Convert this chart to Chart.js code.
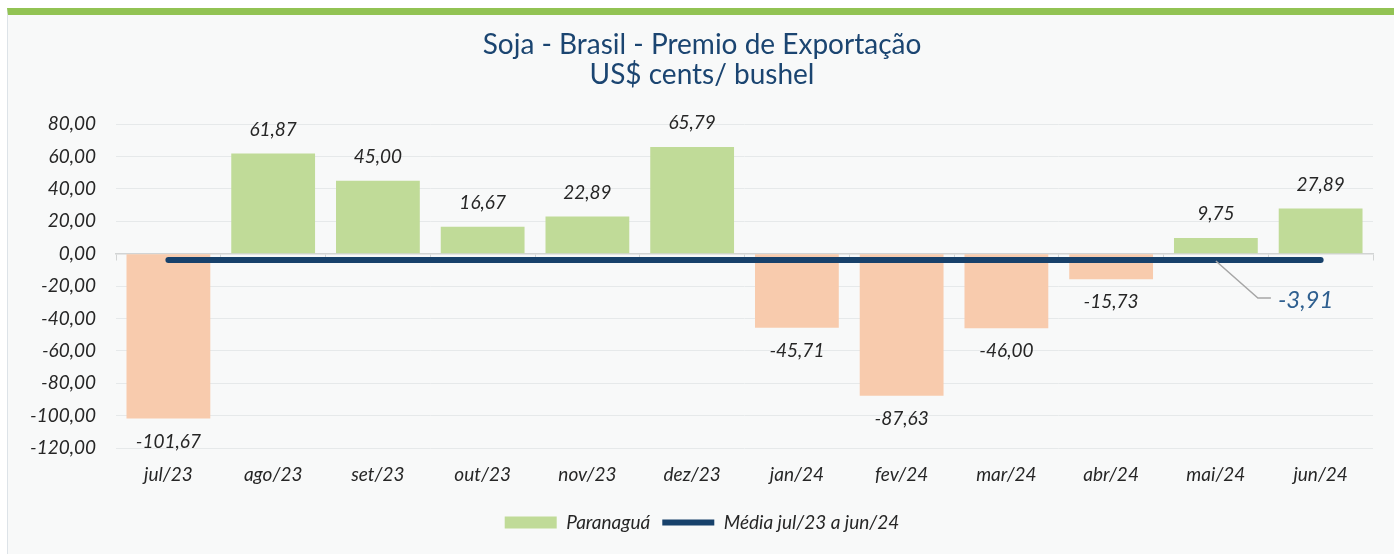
<!DOCTYPE html>
<html>
<head>
<meta charset="utf-8">
<script src="https://cdn.jsdelivr.net/npm/chart.js@4.4.1/dist/chart.umd.min.js"></script>
<style>
  html, body { margin: 0; padding: 0; background: #ffffff; }
  #frame {
    position: absolute; left: 7px; top: 8px; right: 0; bottom: 0;
    border-top: 7px solid #92c353; border-left: 1px solid #dde3e8;
    background: #f8f9f9;
  }
  #wrap { position: absolute; left: 0; top: 0; width: 1386px; height: 539px; }
</style>
</head>
<body>
<div id="frame"><div id="wrap"><canvas id="chart"></canvas></div></div>
<script>
// ---------- DATA ----------
const months = ["jul/23", "ago/23", "set/23", "out/23", "nov/23", "dez/23",
  "jan/24", "fev/24", "mar/24", "abr/24", "mai/24", "jun/24"];
const paranagua = [-101.67, 61.87, 45.00, 16.67, 22.89, 65.79,
  -45.71, -87.63, -46.00, -15.73, 9.75, 27.89];
const media = [-3.91, -3.91, -3.91, -3.91, -3.91, -3.91,
  -3.91, -3.91, -3.91, -3.91, -3.91, -3.91];
const mediaLabelIndex = 10;

// ---------- COLORS ----------
const COLORS = {
  pos: "#c0db98",
  neg: "#f8cbad",
  avg: "#17416b",
  title: "#1b4571",
  text: "#262626",
  grid: "#e6e9ea",
  axis: "#d2d4d4",
  leader: "#a6a6a6",
  avgText: "#2e5f8f"
};
const FONT = "Lato, 'Open Sans', sans-serif";

const fmt = v => v.toFixed(2).replace(".", ",");

// ---------- LABEL PLUGIN ----------
const valueLabels = {
  id: "valueLabels",
  afterDatasetsDraw(chart) {
    const ctx = chart.ctx;
    const bars = chart.getDatasetMeta(0).data;
    ctx.save();
    ctx.font = "italic 19px " + FONT;
    ctx.fillStyle = COLORS.text;
    ctx.textAlign = "center";
    ctx.textBaseline = "middle";
    bars.forEach((bar, i) => {
      const v = paranagua[i];
      ctx.fillText(fmt(v), bar.x, v >= 0 ? bar.y - 24 : bar.y + 23);
    });

    // average callout
    const pt = chart.getDatasetMeta(1).data[mediaLabelIndex];
    ctx.strokeStyle = COLORS.leader;
    ctx.lineWidth = 1.5;
    ctx.beginPath();
    ctx.moveTo(pt.x, pt.y + 1);
    ctx.lineTo(pt.x + 42, pt.y + 38);
    ctx.lineTo(pt.x + 55, pt.y + 38);
    ctx.stroke();
    ctx.font = "italic 24px " + FONT;
    ctx.fillStyle = COLORS.avgText;
    ctx.textAlign = "left";
    ctx.fillText(fmt(media[mediaLabelIndex]), pt.x + 62, pt.y + 40);
    ctx.restore();
  }
};

// ---------- CHART ----------
new Chart(document.getElementById("chart"), {
  type: "bar",
  data: {
    labels: months,
    datasets: [
      {
        label: "Paranaguá",
        data: paranagua,
        backgroundColor: c => (c.raw >= 0 ? COLORS.pos : COLORS.neg),
        borderWidth: 0,
        barPercentage: 0.8,
        categoryPercentage: 1,
        pointStyle: "rect",
        order: 1
      },
      {
        type: "line",
        label: "Média jul/23 a jun/24",
        data: media,
        borderColor: COLORS.avg,
        backgroundColor: COLORS.avg,
        borderWidth: 6,
        borderCapStyle: "round",
        pointRadius: 0,
        pointStyle: "line",
        order: 0
      }
    ]
  },
  options: {
    responsive: true,
    maintainAspectRatio: false,
    animation: false,
    layout: { padding: { top: 10, right: 0, bottom: 12, left: 2 } },
    scales: {
      x: {
        grid: { display: false, drawTicks: false },
        border: { display: false },
        ticks: { color: COLORS.text, font: { family: FONT, size: 19, style: "italic" }, padding: 15 }
      },
      x0: {
        type: "category",
        position: { y: 0 },
        offset: true,
        grid: { offset: true, drawOnChartArea: false, drawTicks: true, tickLength: 6, color: COLORS.axis },
        border: { display: true, color: COLORS.axis, width: 1.5 },
        ticks: { display: false }
      },
      y: {
        min: -120,
        max: 80,
        ticks: {
          stepSize: 20,
          color: COLORS.text,
          font: { family: FONT, size: 19, style: "italic" },
          padding: 20,
          callback: v => fmt(v)
        },
        grid: { color: c => (c.tick.value === 0 ? "rgba(0,0,0,0)" : COLORS.grid), drawTicks: false },
        border: { display: false }
      },
      // empty right axis, only keeps the right margin
      yr: {
        position: "right",
        min: -120,
        max: 80,
        grid: { drawOnChartArea: false, drawTicks: false },
        border: { display: false },
        ticks: { display: false },
        afterFit: s => { s.width = 21; }
      }
    },
    plugins: {
      legend: {
        position: "bottom",
        labels: {
          usePointStyle: true,
          pointStyleWidth: 52,
          boxHeight: 12,
          padding: 12,
          color: COLORS.text,
          font: { family: FONT, size: 19, style: "italic" },
          sort: (a, b) => a.datasetIndex - b.datasetIndex,
          generateLabels: chart => {
            const items = Chart.defaults.plugins.legend.labels.generateLabels(chart);
            items.forEach(it => {
              if (it.datasetIndex === 0) { it.fillStyle = COLORS.pos; it.strokeStyle = COLORS.pos; }
            });
            return items;
          }
        }
      },
      title: {
        display: true,
        text: ["Soja - Brasil - Premio de Exportação", "US$ cents/ bushel"],
        color: COLORS.title,
        font: { family: FONT, size: 28, weight: "normal", lineHeight: 30 / 28 },
        padding: { top: 5, bottom: 34 }
      },
      tooltip: { enabled: false }
    }
  },
  plugins: [valueLabels]
});
</script>
</body>
</html>
